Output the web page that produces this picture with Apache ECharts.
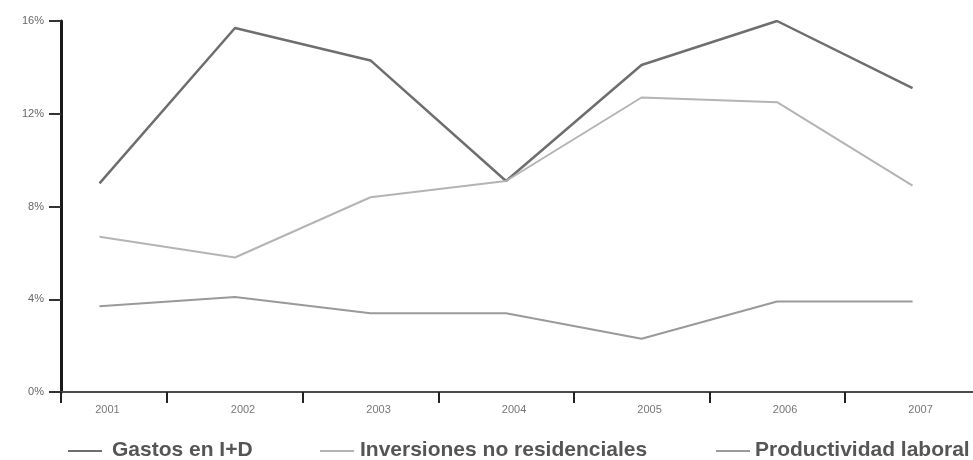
<!DOCTYPE html>
<html><head><meta charset="utf-8">
<script src="https://cdn.jsdelivr.net/npm/echarts@6/dist/echarts.min.js"></script>
<style>html,body{margin:0;padding:0;background:#fff}#c{width:973px;height:460px}</style>
</head><body><div id="c"></div>
<script>
const years = [2001, 2002, 2003, 2004, 2005, 2006, 2007];
const gastosID = [9.0, 15.7, 14.3, 9.1, 14.1, 16.0, 13.1];
const inversiones = [6.7, 5.8, 8.4, 9.1, 12.7, 12.5, 8.9];
const productividad = [3.7, 4.1, 3.4, 3.4, 2.3, 3.9, 3.9];
const seriesNames = ['Gastos en I+D', 'Inversiones no residenciales', 'Productividad laboral'];
const yTicks = [0, 4, 8, 12, 16];
const boundaries = [2000.716, 2001.5, 2002.5, 2003.5, 2004.5, 2005.5, 2006.5];

const pairs = arr => arr.map((v, i) => [years[i], v]);
const chart = echarts.init(document.getElementById('c'), null, {renderer: 'canvas'});
const font = '"Liberation Sans", Arial, sans-serif';
const colors = ['#6e6e6e', '#b4b4b4', '#9a9a9a'];
const widths = [2.5, 2, 2];
const iconLeft = [68, 320, 716];
const textLeft = [112, 360, 755];
const legendGraphics = [];
seriesNames.forEach((n, i) => {
  legendGraphics.push({type: 'line', x: iconLeft[i], y: 451,
    shape: {x1: 0, y1: 0, x2: 34, y2: 0}, style: {stroke: colors[i], lineWidth: 2}});
  legendGraphics.push({type: 'text', x: textLeft[i], y: 450,
    style: {text: n, fontSize: 21, fontWeight: 'bold', fill: '#555', fontFamily: font, verticalAlign: 'middle', align: 'left'}});
});
chart.setOption({
  animation: false,
  grid: {left: 61, right: 0, top: 21, bottom: 68, containLabel: false},
  xAxis: {
    type: 'value', min: 2000.716, max: 2007.446,
    axisLine: {show: true, onZero: false, lineStyle: {color: '#4a4a4a', width: 2}},
    axisTick: {show: true, length: 11, customValues: boundaries, lineStyle: {color: '#222', width: 2}},
    axisLabel: {customValues: years, formatter: v => String(Math.round(v)), color: '#777', fontSize: 11, fontFamily: font, margin: 12, padding: [0, 0, 0, 16]},
    splitLine: {show: false}
  },
  yAxis: {
    type: 'value', min: 0, max: 16, interval: 4,
    axisLine: {show: true, lineStyle: {color: '#1a1a1a', width: 3}},
    axisTick: {show: true, length: 12, lineStyle: {color: '#333', width: 2}},
    axisLabel: {formatter: v => v + '%', color: '#666', fontSize: 11, fontFamily: font, margin: 17, customValues: yTicks},
    splitLine: {show: false}
  },
  graphic: legendGraphics,
  series: [gastosID, inversiones, productividad].map((d, i) => ({
    name: seriesNames[i], type: 'line', data: pairs(d), symbol: 'none',
    lineStyle: {color: colors[i], width: widths[i]}, itemStyle: {color: colors[i]}
  }))
});
</script></body></html>
